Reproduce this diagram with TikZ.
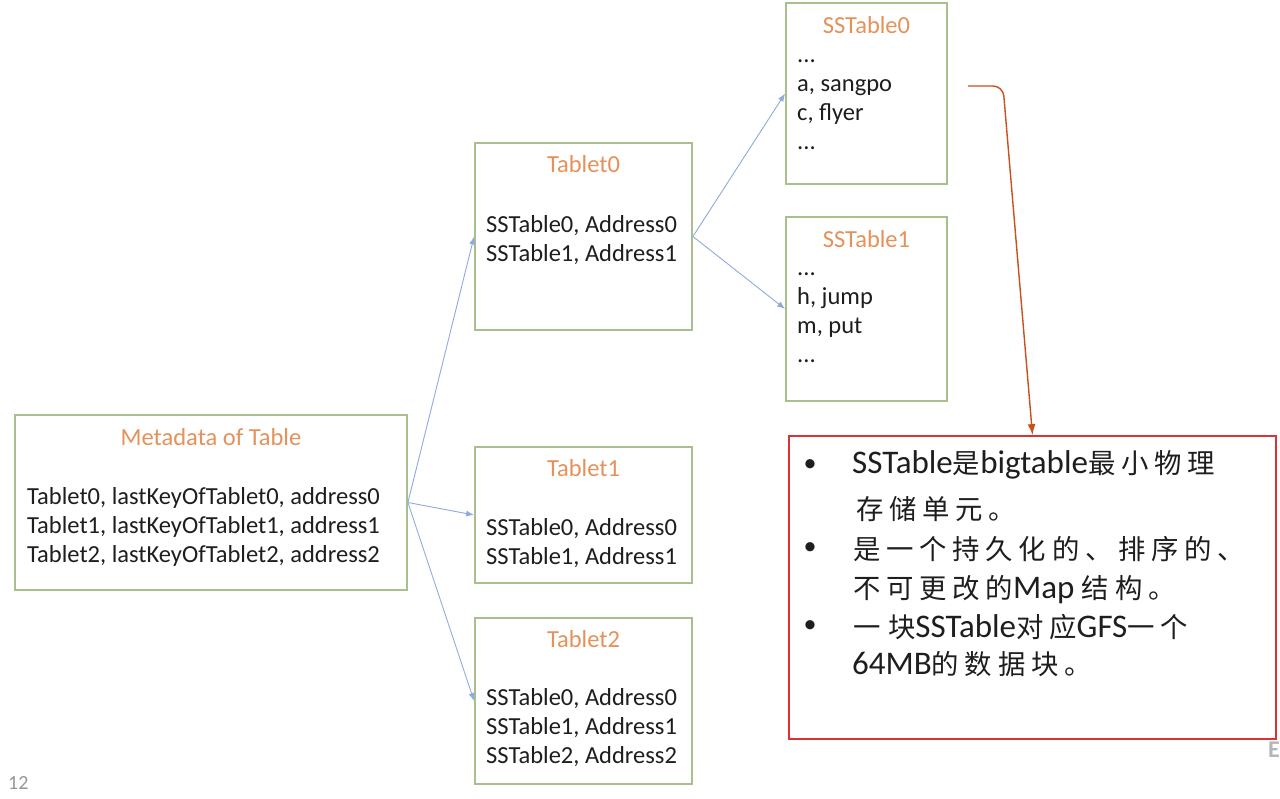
\documentclass[tikz,border=0pt]{standalone}
\usepackage{fontspec}
\setmainfont{Carlito}
\newfontfamily\cjk[Scale=0.83,LetterSpace=21]{Noto Sans CJK SC}
\usetikzlibrary{arrows.meta}
\definecolor{gboxc}{RGB}{169,192,142}
\definecolor{titlec}{RGB}{229,145,90}
\definecolor{txtc}{RGB}{30,30,30}
\definecolor{bluec}{RGB}{143,170,220}
\definecolor{redc}{RGB}{222,50,50}
\definecolor{orangec}{RGB}{200,80,30}
\definecolor{grayc}{RGB}{150,150,150}
\newcommand\zh[1]{{\cjk #1}}
\begin{document}
\begin{tikzpicture}[x=1pt,y=-1pt,
  gbox/.style={draw=gboxc,line width=1.8pt,rectangle,inner sep=0pt},
  rbox/.style={draw=redc,line width=1.8pt,rectangle,inner sep=0pt},
  ttl/.style={text=titlec,font=\fontsize{24.5}{28}\selectfont,inner sep=0pt},
  body/.style={text=txtc,font=\fontsize{24.5}{29}\selectfont,align=left,anchor=west,inner sep=0pt},
  zline/.style={text=txtc,font=\fontsize{33}{38}\selectfont,anchor=west,inner sep=0pt},
  bul/.style={text=txtc,font=\fontsize{26}{30}\selectfont,inner sep=0pt},
  barrow/.style={draw=bluec,line width=0.9pt,-{Latex[length=8pt,width=6pt]}},
  oarrow/.style={draw=orangec,line width=1.4pt,-{Latex[length=11pt,width=8pt]}}]
\useasboundingbox (0,0) rectangle (1280,799);
\fill[white] (0,0) rectangle (1280,799);
% boxes
\node[gbox,minimum width=392pt,minimum height=175pt] (meta) at (211,502.5) {};
\node[gbox,minimum width=217pt,minimum height=187pt] (t0) at (583.5,236.5) {};
\node[gbox,minimum width=217pt,minimum height=136pt] (t1) at (583.5,515) {};
\node[gbox,minimum width=217pt,minimum height=166pt] (t2) at (583.5,701) {};
\node[gbox,minimum width=161pt,minimum height=181pt] (s0) at (866.5,93.5) {};
\node[gbox,minimum width=161pt,minimum height=184pt] (s1) at (866.5,309) {};
\node[rbox,minimum width=487pt,minimum height=303pt] (red) at (1032.5,587.5) {};
% titles
\node[ttl] (metat) at (211,437) {Metadata of Table};
\node[ttl] (t0t) at (583.5,164) {Tablet0};
\node[ttl] (t1t) at (583.5,468) {Tablet1};
\node[ttl] (t2t) at (583.5,639) {Tablet2};
\node[ttl] (s0t) at (866.5,25) {SSTable0};
\node[ttl] (s1t) at (866.5,239) {SSTable1};
% bodies
\node[body] (metab) at (27,527) {Tablet0, lastKeyOfTablet0, address0\\Tablet1, lastKeyOfTablet1, address1\\Tablet2, lastKeyOfTablet2, address2};
\node[body] (t0b) at (486,240) {SSTable0, Address0\\SSTable1, Address1};
\node[body] (t1b) at (486,543) {SSTable0, Address0\\SSTable1, Address1};
\node[body] (t2b) at (486,728) {SSTable0, Address0\\SSTable1, Address1\\SSTable2, Address2};
\node[body] (s0b) at (797,105) {...\\a, sangpo\\c, flyer\\...};
\node[body] (s1b) at (797,318) {...\\h, jump\\m, put\\...};
% red box text
\node[bul] (b1) at (810,466) {•};
\node[bul] (b2) at (810,549) {•};
\node[bul] (b3) at (810,627) {•};
\node[zline] (z1) at (852,465) {SSTable\zh{是}bigtable\zh{最小物理}};
\node[zline] (z2) at (856,509) {\zh{存储单元。}};
\node[zline] (z3) at (853,549) {\zh{是一个持久化的、排序的、}};
\node[zline] (z4) at (853,590) {\zh{不可更改的}Map \zh{结构。}};
\node[zline] (z5) at (853,627) {\zh{一} \zh{块}SSTable\zh{对应}GFS\zh{一个}};
\node[zline] (z6) at (852,664) {64MB\zh{的数据块。}};
% page marks
\node[text=grayc,font=\fontsize{20}{22}\selectfont,anchor=west,inner sep=0pt] (pg) at (8,783) {12};
\node[text=grayc!70,font=\fontsize{24}{28}\selectfont\bfseries,anchor=west,inner sep=0pt] (ee) at (1268,750) {E};
% connectors
\draw[barrow] (meta.east) -- (t0.west);
\draw[barrow] (meta.east) -- (t1.west);
\draw[barrow] (meta.east) -- (t2.west);
\draw[barrow] (t0.east) -- (s0.west);
\draw[barrow] (t0.east) -- (s1.west);
\coordinate (os) at (968,86);
\coordinate (ob) at (1003,86);
\draw[oarrow,rounded corners=10pt] (os) -- (ob) -- (red.north);
\end{tikzpicture}
\end{document}
